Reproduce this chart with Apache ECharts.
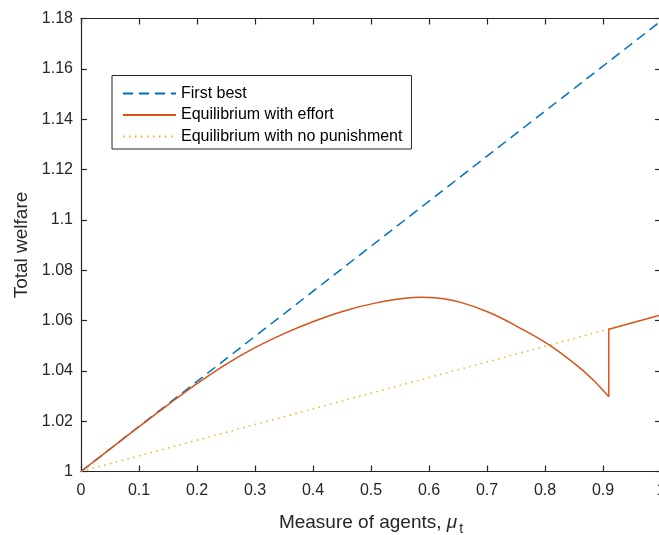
<!DOCTYPE html>
<html>
<head>
<meta charset="utf-8">
<script src="https://cdn.jsdelivr.net/npm/echarts@6/dist/echarts.min.js"></script>
<style>
html,body{margin:0;padding:0;background:#fff;}
#chart{width:659px;height:535px;}
</style>
</head>
<body>
<div id="chart"></div>
<script>
// ---- data ----
const seriesNames = ['First best', 'Equilibrium with effort', 'Equilibrium with no punishment'];
const xTicks = [0, 0.1, 0.2, 0.3, 0.4, 0.5, 0.6, 0.7, 0.8, 0.9, 1];
const yTicks = [1, 1.02, 1.04, 1.06, 1.08, 1.1, 1.12, 1.14, 1.16, 1.18];

const firstBestX = [0, 1];
const firstBestY = [1, 1.179];

const effortX = [0, 0.05, 0.1, 0.15, 0.2, 0.25, 0.3, 0.352, 0.403, 0.455, 0.507, 0.559, 0.587, 0.61, 0.653, 0.705, 0.757, 0.809, 0.86, 0.889, 0.91];
const effortY = [1.0000, 1.0089, 1.0178, 1.0265, 1.0349, 1.0426, 1.0492, 1.0550, 1.0598, 1.0639, 1.0669, 1.0688, 1.0692, 1.0690, 1.0673, 1.0631, 1.0570, 1.0500, 1.0412, 1.0350, 1.0297];

const effortJumpX = [0.91, 0.91, 1];
const effortJumpY = [1.0297, 1.0565, 1.0622];

const noPunishX = [0, 1];
const noPunishY = [1, 1.0622];

const pairs = (xs, ys) => xs.map((x, i) => [x, ys[i]]);

const C_BLUE = '#0072BD', C_ORANGE = '#D95319', C_YELLOW = '#EDB120', C_AX = '#262626';
const FONT = '"Liberation Sans", Arial, Helvetica, sans-serif';

const chart = echarts.init(document.getElementById('chart'));
const axisCommon = {
  axisLine: { show: true, onZero: false, lineStyle: { color: C_AX, width: 1.2 } },
  axisTick: { show: true, inside: true, length: 6, lineStyle: { color: C_AX, width: 1.2 } },
  splitLine: { show: false }
};
const fmt = v => String(parseFloat(v.toFixed(2)));

chart.setOption({
  animation: false,
  backgroundColor: '#fff',
  textStyle: { fontFamily: FONT },
  grid: { left: 81, top: 18.5, right: -2, bottom: 63.5, containLabel: false, outerBoundsMode: 'none' },
  legend: {
    orient: 'vertical',
    left: 112,
    top: 75.5,
    padding: [10, 9, 4.5, 10],
    itemGap: 5.5,
    itemWidth: 53,
    itemHeight: 14,
    backgroundColor: '#fff',
    borderColor: C_AX,
    borderWidth: 1,
    borderRadius: 0,
    itemStyle: { opacity: 0 },
    textStyle: { fontFamily: FONT, fontSize: 16, color: '#000' },
    data: seriesNames
  },
  xAxis: [
    Object.assign({
      type: 'value', min: 0, max: 1, interval: 0.1, position: 'bottom',
      axisLabel: { formatter: fmt, fontSize: 16, color: C_AX, margin: 11, fontFamily: FONT },
      name: '{a|Measure of agents, }{mu|μ}{sub|t}',
      nameLocation: 'middle',
      nameGap: 38,
      nameTextStyle: {
        rich: {
          a: { fontSize: 19, color: C_AX, fontFamily: FONT },
          mu: { fontSize: 19, color: C_AX, fontFamily: FONT, fontStyle: 'italic' },
          sub: { fontSize: 14, color: C_AX, fontFamily: FONT, padding: [13, 0, 0, 2] }
        }
      }
    }, axisCommon),
    Object.assign({
      type: 'value', min: 0, max: 1, interval: 0.1, position: 'top',
      axisLabel: { show: false }
    }, axisCommon)
  ],
  yAxis: [
    Object.assign({
      type: 'value', min: 1, max: 1.18, interval: 0.02, position: 'left',
      axisLabel: { formatter: fmt, fontSize: 16, color: C_AX, margin: 8, fontFamily: FONT },
      name: 'Total welfare',
      nameLocation: 'middle',
      nameGap: 45,
      nameTextStyle: { fontSize: 19, color: C_AX, fontFamily: FONT }
    }, axisCommon),
    Object.assign({
      type: 'value', min: 1, max: 1.18, interval: 0.02, position: 'right',
      axisLabel: { show: false }
    }, axisCommon)
  ],
  series: [
    {
      name: seriesNames[0], type: 'line', xAxisIndex: 0, yAxisIndex: 0,
      data: pairs(firstBestX, firstBestY), showSymbol: false, symbol: 'none',
      lineStyle: { color: C_BLUE, width: 1.5, type: [10, 6] }, itemStyle: { color: C_BLUE }, z: 2
    },
    {
      name: seriesNames[1], type: 'line', xAxisIndex: 0, yAxisIndex: 0,
      data: pairs(effortX, effortY), showSymbol: false, symbol: 'none', smooth: 0.4,
      lineStyle: { color: C_ORANGE, width: 1.5 }, itemStyle: { color: C_ORANGE }, z: 4
    },
    {
      name: seriesNames[1], type: 'line', xAxisIndex: 0, yAxisIndex: 0,
      data: pairs(effortJumpX, effortJumpY), showSymbol: false, symbol: 'none',
      lineStyle: { color: C_ORANGE, width: 1.5 }, itemStyle: { color: C_ORANGE }, z: 4
    },
    {
      name: seriesNames[2], type: 'line', xAxisIndex: 0, yAxisIndex: 0,
      data: pairs(noPunishX, noPunishY), showSymbol: false, symbol: 'none',
      lineStyle: { color: C_YELLOW, width: 1.5, type: [1.5, 4.5] }, itemStyle: { color: C_YELLOW }, z: 3
    }
  ]
});
</script>
</body>
</html>
